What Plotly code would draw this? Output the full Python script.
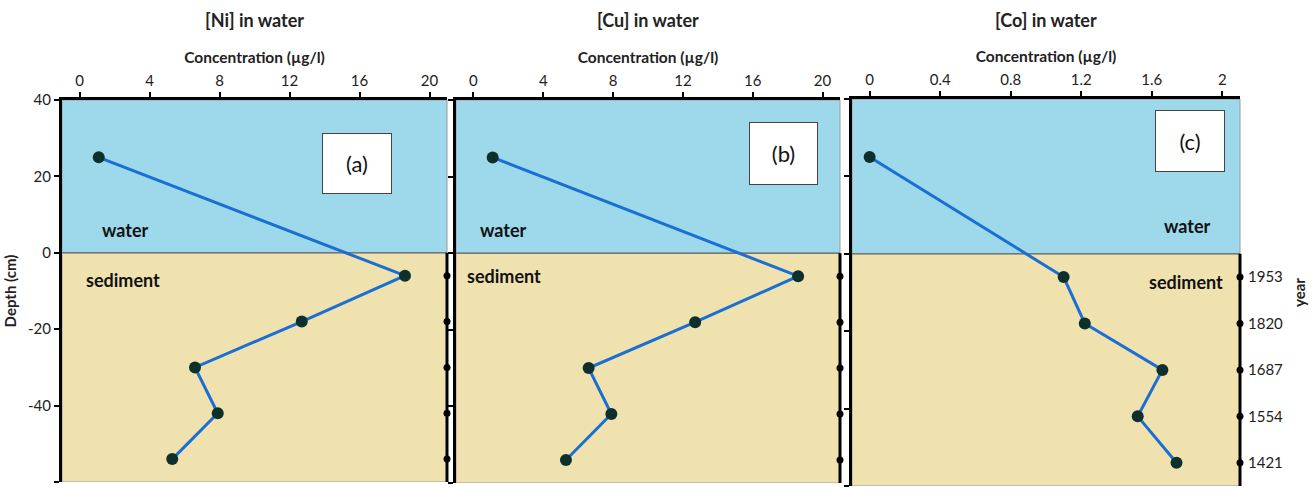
import plotly.graph_objects as go

# ---------------- data ----------------
depth = [25, -6, -18, -30, -42, -54]
ni = [1.1, 18.6, 12.7, 6.6, 7.9, 5.3]
cu = [1.1, 18.6, 12.7, 6.6, 7.9, 5.3]
co = [0.0, 1.1, 1.22, 1.66, 1.52, 1.74]
sed_depth = [-6, -18, -30, -42, -54]
years = ["1953", "1820", "1687", "1554", "1421"]
ticks_ab = [0, 4, 8, 12, 16, 20]
ticks_c = [0, 0.4, 0.8, 1.2, 1.6, 2]
ticktext_c = ["0", "0.4", "0.8", "1.2", "1.6", "2"]
depth_ticks = [40, 20, 0, -20, -40, -60]
depth_ticktext = ["40", "20", "0", "-20", "-40", "-60"]
titles = ["[Ni] in water", "[Cu] in water", "[Co] in water"]
labels = ["(a)", "(b)", "(c)"]
series = [ni, cu, co]
xranges = [[-1, 21], [-1, 21], [-0.1, 2.1]]
yrange = [-60, 40]

# ---------------- layout geometry (pixels) ----------------
W, H = 1314, 490
panels = [(62, 447, 100, 482), (456, 840, 100, 483), (852, 1240, 99, 486)]
FONT = "Lato"
WATER = "#9DD9EA"
SED = "#EFE2AE"
LINE = "#1A6FD4"
DOT = "#0D302C"

def px(x):
    return x / W

def py(y):
    return (H - y) / H

fig = go.Figure()
shapes = []
annotations = []

for i in range(3):
    n = "" if i == 0 else str(i + 1)
    xa, ya = "x" + n, "y" + n
    x0, x1, y0, y1 = panels[i]
    fig.add_trace(go.Scatter(
        x=series[i], y=depth, xaxis=xa, yaxis=ya, mode="lines+markers",
        line=dict(color=LINE, width=3),
        marker=dict(color=DOT, size=12),
        showlegend=False, cliponaxis=False))
    # dots on the right-hand "year" axis
    fig.add_trace(go.Scatter(
        x=[xranges[i][1]] * len(sed_depth), y=sed_depth, xaxis=xa, yaxis=ya,
        mode="markers", marker=dict(color="black", size=7),
        showlegend=False, cliponaxis=False))

    xkw = dict(
        domain=[px(x0), px(x1)], range=xranges[i], side="top", anchor=ya,
        showline=True, linewidth=3, linecolor="black", ticks="outside",
        ticklen=5, tickwidth=1.5, tickcolor="black", showgrid=False,
        zeroline=False, automargin=False,
        tickfont=dict(family=FONT, size=15, color="#222"),
        title=dict(text="<b>Concentration (µg/l)</b>", standoff=4,
                   font=dict(family=FONT, size=15.5, color="#222")))
    if i == 2:
        xkw.update(tickvals=ticks_c, ticktext=ticktext_c)
    else:
        xkw.update(tickvals=ticks_ab)
    ykw = dict(
        domain=[py(y1), py(y0)], range=yrange, anchor=xa, tickvals=depth_ticks,
        ticktext=depth_ticktext,
        showline=True, linewidth=3, linecolor="black", ticks="outside",
        ticklen=5, tickwidth=1.5, tickcolor="black", showgrid=False,
        zeroline=False, automargin=False, showticklabels=(i == 0),
        tickfont=dict(family=FONT, size=15, color="#222"))
    if i == 0:
        ykw["title"] = dict(text="<b>Depth (cm)</b>", standoff=8,
                            font=dict(family=FONT, size=15, color="#222"))
    fig.update_layout({"xaxis" + n: xkw, "yaxis" + n: ykw})

    # background zones
    shapes.append(dict(type="rect", xref=xa + " domain", yref=ya, x0=0, x1=1,
                       y0=0, y1=yrange[1], fillcolor=WATER, layer="below",
                       line=dict(color="#9a9a9a", width=1)))
    shapes.append(dict(type="rect", xref=xa + " domain", yref=ya, x0=0, x1=1,
                       y0=yrange[0], y1=0, fillcolor=SED, layer="below",
                       line=dict(color="#9a9a9a", width=1)))
    shapes.append(dict(type="line", xref=xa + " domain", yref=ya, x0=0, x1=1,
                       y0=0, y1=0, layer="below",
                       line=dict(color="#777777", width=1.5)))
    # right-hand year axis line
    shapes.append(dict(type="line", xref=xa + " domain", yref=ya, x0=1, x1=1,
                       y0=0, y1=yrange[0], line=dict(color="black", width=3)))

    # panel title
    annotations.append(dict(text="<b>" + titles[i] + "</b>", xref="paper",
                            yref="paper", x=px((x0 + x1) / 2), y=py(20),
                            xanchor="center", yanchor="middle",
                            showarrow=False, font=dict(family=FONT, size=18,
                                                       color="#222")))

# label boxes
boxes = [(323, 391, 134, 193), (750, 817, 123, 184), (1156, 1224, 111, 171)]
for i, (bx0, bx1, by0, by1) in enumerate(boxes):
    annotations.append(dict(text=labels[i], xref="paper", yref="paper",
                            x=px((bx0 + bx1) / 2), y=py((by0 + by1) / 2),
                            xanchor="center", yanchor="middle",
                            showarrow=False, width=bx1 - bx0 - 2,
                            height=by1 - by0 - 2, bgcolor="white",
                            bordercolor="#444", borderwidth=1,
                            font=dict(family=FONT, size=22, color="#111")))

water_pos = [(125, 230), (503, 230), (1187, 226)]
sed_pos = [(123, 280), (504, 276), (1186, 282)]
for (wx, wy) in water_pos:
    annotations.append(dict(text="<b>water</b>", xref="paper", yref="paper",
                            x=px(wx), y=py(wy), xanchor="center",
                            yanchor="middle", showarrow=False,
                            font=dict(family=FONT, size=18, color="#111")))
for (sx, sy) in sed_pos:
    annotations.append(dict(text="<b>sediment</b>", xref="paper", yref="paper",
                            x=px(sx), y=py(sy), xanchor="center",
                            yanchor="middle", showarrow=False,
                            font=dict(family=FONT, size=18, color="#111")))

# year axis for panel (c)
fig.update_layout(yaxis4=dict(
    overlaying="y3", side="right", anchor="x3", range=yrange,
    tickvals=sed_depth, ticktext=years, showline=False, ticks="",
    ticklabelstandoff=7,
    showgrid=False, zeroline=False, automargin=False,
    tickfont=dict(family=FONT, size=15, color="#222"),
    title=dict(text="<b>year</b>", standoff=12,
               font=dict(family=FONT, size=15, color="#222"))))
fig.add_trace(go.Scatter(x=[None], y=[None], xaxis="x3", yaxis="y4",
                         showlegend=False, hoverinfo="skip"))

fig.update_layout(width=W, height=H, margin=dict(l=0, r=0, t=0, b=0),
                  paper_bgcolor="white", plot_bgcolor="white",
                  shapes=shapes, annotations=annotations, showlegend=False)

fig.write_html("out.html", config={"displayModeBar": False},
               post_script="document.body.style.margin='0';"
                           "document.body.style.overflow='hidden';")
